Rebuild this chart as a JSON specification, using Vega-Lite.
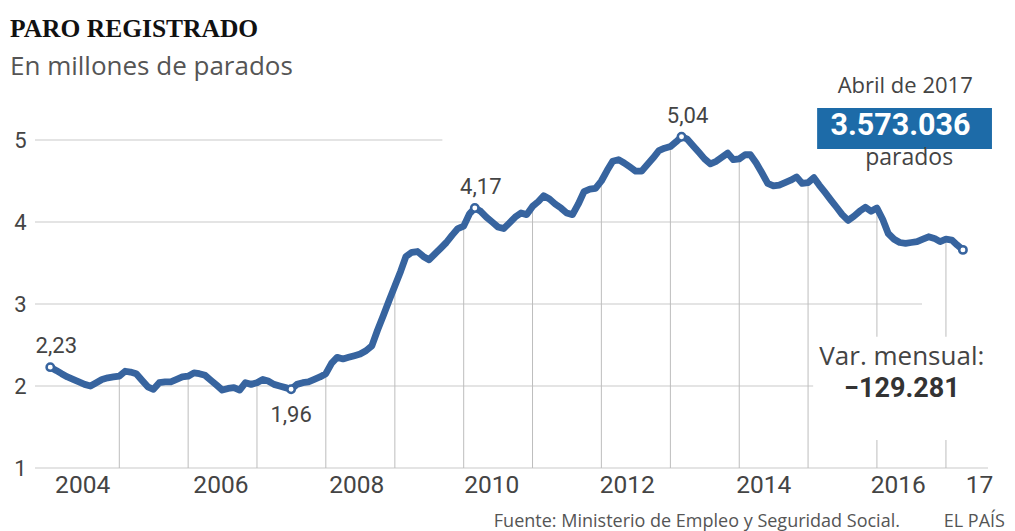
{
  "$schema": "https://vega.github.io/schema/vega-lite/v6.json",
  "width": 953,
  "height": 369,
  "autosize": "none",
  "padding": {"left": 35, "top": 99, "right": 27, "bottom": 63},
  "background": "white",
  "config": {"view": {"stroke": null}},
  "title": {
    "text": "PARO REGISTRADO",
    "subtitle": "En millones de parados",
    "anchor": "start",
    "frame": "group",
    "dx": -25,
    "offset": -5,
    "font": "Liberation Serif",
    "fontSize": 25.5,
    "fontWeight": "bold",
    "color": "#111111",
    "subtitleFont": "Open Sans",
    "subtitleFontSize": 26,
    "subtitleColor": "#555555",
    "subtitlePadding": 12
  },
  "data": {
    "format": {"parse": {"date": "utc:'%Y-%m-%d'"}},
    "values": [
      {"date": "2004-01-01", "value": 2.23, "label": "2,23"},
      {"date": "2004-02-01", "value": 2.19},
      {"date": "2004-03-01", "value": 2.15},
      {"date": "2004-04-01", "value": 2.11},
      {"date": "2004-05-01", "value": 2.08},
      {"date": "2004-06-01", "value": 2.05},
      {"date": "2004-07-01", "value": 2.02},
      {"date": "2004-08-01", "value": 2.00},
      {"date": "2004-09-01", "value": 2.04},
      {"date": "2004-10-01", "value": 2.08},
      {"date": "2004-11-01", "value": 2.10},
      {"date": "2004-12-01", "value": 2.11},
      {"date": "2005-01-01", "value": 2.12},
      {"date": "2005-02-01", "value": 2.18},
      {"date": "2005-03-01", "value": 2.17},
      {"date": "2005-04-01", "value": 2.15},
      {"date": "2005-05-01", "value": 2.07},
      {"date": "2005-06-01", "value": 1.99},
      {"date": "2005-07-01", "value": 1.96},
      {"date": "2005-08-01", "value": 2.04},
      {"date": "2005-09-01", "value": 2.05},
      {"date": "2005-10-01", "value": 2.05},
      {"date": "2005-11-01", "value": 2.08},
      {"date": "2005-12-01", "value": 2.11},
      {"date": "2006-01-01", "value": 2.12},
      {"date": "2006-02-01", "value": 2.16},
      {"date": "2006-03-01", "value": 2.15},
      {"date": "2006-04-01", "value": 2.13},
      {"date": "2006-05-01", "value": 2.07},
      {"date": "2006-06-01", "value": 2.01},
      {"date": "2006-07-01", "value": 1.95},
      {"date": "2006-08-01", "value": 1.97},
      {"date": "2006-09-01", "value": 1.98},
      {"date": "2006-10-01", "value": 1.95},
      {"date": "2006-11-01", "value": 2.04},
      {"date": "2006-12-01", "value": 2.02},
      {"date": "2007-01-01", "value": 2.04},
      {"date": "2007-02-01", "value": 2.08},
      {"date": "2007-03-01", "value": 2.06},
      {"date": "2007-04-01", "value": 2.02},
      {"date": "2007-05-01", "value": 2.00},
      {"date": "2007-06-01", "value": 1.98},
      {"date": "2007-07-01", "value": 1.96, "label": "1,96"},
      {"date": "2007-08-01", "value": 2.02},
      {"date": "2007-09-01", "value": 2.04},
      {"date": "2007-10-01", "value": 2.05},
      {"date": "2007-11-01", "value": 2.08},
      {"date": "2007-12-01", "value": 2.11},
      {"date": "2008-01-01", "value": 2.15},
      {"date": "2008-02-01", "value": 2.28},
      {"date": "2008-03-01", "value": 2.35},
      {"date": "2008-04-01", "value": 2.33},
      {"date": "2008-05-01", "value": 2.35},
      {"date": "2008-06-01", "value": 2.37},
      {"date": "2008-07-01", "value": 2.39},
      {"date": "2008-08-01", "value": 2.43},
      {"date": "2008-09-01", "value": 2.49},
      {"date": "2008-10-01", "value": 2.68},
      {"date": "2008-11-01", "value": 2.86},
      {"date": "2008-12-01", "value": 3.04},
      {"date": "2009-01-01", "value": 3.22},
      {"date": "2009-02-01", "value": 3.40},
      {"date": "2009-03-01", "value": 3.58},
      {"date": "2009-04-01", "value": 3.63},
      {"date": "2009-05-01", "value": 3.64},
      {"date": "2009-06-01", "value": 3.58},
      {"date": "2009-07-01", "value": 3.54},
      {"date": "2009-08-01", "value": 3.61},
      {"date": "2009-09-01", "value": 3.68},
      {"date": "2009-10-01", "value": 3.75},
      {"date": "2009-11-01", "value": 3.84},
      {"date": "2009-12-01", "value": 3.92},
      {"date": "2010-01-01", "value": 3.95},
      {"date": "2010-02-01", "value": 4.10},
      {"date": "2010-03-01", "value": 4.17, "label": "4,17"},
      {"date": "2010-04-01", "value": 4.13},
      {"date": "2010-05-01", "value": 4.06},
      {"date": "2010-06-01", "value": 4.00},
      {"date": "2010-07-01", "value": 3.94},
      {"date": "2010-08-01", "value": 3.92},
      {"date": "2010-09-01", "value": 3.99},
      {"date": "2010-10-01", "value": 4.06},
      {"date": "2010-11-01", "value": 4.11},
      {"date": "2010-12-01", "value": 4.09},
      {"date": "2011-01-01", "value": 4.19},
      {"date": "2011-02-01", "value": 4.25},
      {"date": "2011-03-01", "value": 4.32},
      {"date": "2011-04-01", "value": 4.28},
      {"date": "2011-05-01", "value": 4.22},
      {"date": "2011-06-01", "value": 4.17},
      {"date": "2011-07-01", "value": 4.11},
      {"date": "2011-08-01", "value": 4.09},
      {"date": "2011-09-01", "value": 4.22},
      {"date": "2011-10-01", "value": 4.37},
      {"date": "2011-11-01", "value": 4.40},
      {"date": "2011-12-01", "value": 4.41},
      {"date": "2012-01-01", "value": 4.50},
      {"date": "2012-02-01", "value": 4.63},
      {"date": "2012-03-01", "value": 4.74},
      {"date": "2012-04-01", "value": 4.76},
      {"date": "2012-05-01", "value": 4.72},
      {"date": "2012-06-01", "value": 4.67},
      {"date": "2012-07-01", "value": 4.62},
      {"date": "2012-08-01", "value": 4.62},
      {"date": "2012-09-01", "value": 4.70},
      {"date": "2012-10-01", "value": 4.78},
      {"date": "2012-11-01", "value": 4.87},
      {"date": "2012-12-01", "value": 4.90},
      {"date": "2013-01-01", "value": 4.92},
      {"date": "2013-02-01", "value": 4.98},
      {"date": "2013-03-01", "value": 5.04, "label": "5,04"},
      {"date": "2013-04-01", "value": 5.01},
      {"date": "2013-05-01", "value": 4.93},
      {"date": "2013-06-01", "value": 4.85},
      {"date": "2013-07-01", "value": 4.77},
      {"date": "2013-08-01", "value": 4.71},
      {"date": "2013-09-01", "value": 4.74},
      {"date": "2013-10-01", "value": 4.79},
      {"date": "2013-11-01", "value": 4.84},
      {"date": "2013-12-01", "value": 4.76},
      {"date": "2014-01-01", "value": 4.77},
      {"date": "2014-02-01", "value": 4.82},
      {"date": "2014-03-01", "value": 4.82},
      {"date": "2014-04-01", "value": 4.72},
      {"date": "2014-05-01", "value": 4.60},
      {"date": "2014-06-01", "value": 4.47},
      {"date": "2014-07-01", "value": 4.44},
      {"date": "2014-08-01", "value": 4.45},
      {"date": "2014-09-01", "value": 4.48},
      {"date": "2014-10-01", "value": 4.51},
      {"date": "2014-11-01", "value": 4.55},
      {"date": "2014-12-01", "value": 4.47},
      {"date": "2015-01-01", "value": 4.48},
      {"date": "2015-02-01", "value": 4.54},
      {"date": "2015-03-01", "value": 4.45},
      {"date": "2015-04-01", "value": 4.36},
      {"date": "2015-05-01", "value": 4.27},
      {"date": "2015-06-01", "value": 4.18},
      {"date": "2015-07-01", "value": 4.09},
      {"date": "2015-08-01", "value": 4.02},
      {"date": "2015-09-01", "value": 4.07},
      {"date": "2015-10-01", "value": 4.13},
      {"date": "2015-11-01", "value": 4.18},
      {"date": "2015-12-01", "value": 4.13},
      {"date": "2016-01-01", "value": 4.17},
      {"date": "2016-02-01", "value": 4.03},
      {"date": "2016-03-01", "value": 3.86},
      {"date": "2016-04-01", "value": 3.79},
      {"date": "2016-05-01", "value": 3.75},
      {"date": "2016-06-01", "value": 3.74},
      {"date": "2016-07-01", "value": 3.75},
      {"date": "2016-08-01", "value": 3.76},
      {"date": "2016-09-01", "value": 3.79},
      {"date": "2016-10-01", "value": 3.82},
      {"date": "2016-11-01", "value": 3.80},
      {"date": "2016-12-01", "value": 3.76},
      {"date": "2017-01-01", "value": 3.79},
      {"date": "2017-02-01", "value": 3.78},
      {"date": "2017-03-01", "value": 3.72},
      {"date": "2017-04-01", "value": 3.66}
    ]
  },
  "layer": [
    {
      "data": {"values": [{}]},
      "mark": {"type": "rule", "color": "#c9c9c9", "strokeWidth": 1},
      "encoding": {
        "x": {"datum": {"year": 2003, "month": 10, "date": 12, "utc": true}, "type": "temporal"},
        "x2": {"datum": {"year": 2017, "month": 8, "date": 12, "utc": true}},
        "y": {"datum": 1, "type": "quantitative"}
      }
    },
    {
      "data": {"values": [{}]},
      "mark": {"type": "rule", "color": "#c9c9c9", "strokeWidth": 1},
      "encoding": {
        "x": {"datum": {"year": 2003, "month": 10, "date": 12, "utc": true}, "type": "temporal"},
        "x2": {"datum": {"year": 2015, "month": 1, "date": 28, "utc": true}},
        "y": {"datum": 2, "type": "quantitative"}
      }
    },
    {
      "data": {"values": [{}]},
      "mark": {"type": "rule", "color": "#c9c9c9", "strokeWidth": 1},
      "encoding": {
        "x": {"datum": {"year": 2003, "month": 10, "date": 12, "utc": true}, "type": "temporal"},
        "x2": {"datum": {"year": 2016, "month": 8, "date": 27, "utc": true}},
        "y": {"datum": 3, "type": "quantitative"}
      }
    },
    {
      "data": {"values": [{}]},
      "mark": {"type": "rule", "color": "#c9c9c9", "strokeWidth": 1},
      "encoding": {
        "x": {"datum": {"year": 2003, "month": 10, "date": 12, "utc": true}, "type": "temporal"},
        "x2": {"datum": {"year": 2016, "month": 1, "date": 8, "utc": true}},
        "y": {"datum": 4, "type": "quantitative"}
      }
    },
    {
      "data": {"values": [{}]},
      "mark": {"type": "rule", "color": "#c9c9c9", "strokeWidth": 1},
      "encoding": {
        "x": {"datum": {"year": 2003, "month": 10, "date": 12, "utc": true}, "type": "temporal"},
        "x2": {"datum": {"year": 2009, "month": 9, "date": 10, "utc": true}},
        "y": {"datum": 5, "type": "quantitative"}
      }
    },
    {
      "transform": [{"filter": "utcmonth(datum.date) == 0 && utcyear(datum.date) >= 2005"}],
      "mark": {"type": "rule", "color": "#bdbdbd", "strokeWidth": 1},
      "encoding": {
        "x": {"field": "date", "type": "temporal"},
        "y": {"field": "value", "type": "quantitative"},
        "y2": {"datum": 1}
      }
    },
    {
      "data": {"values": [{}]},
      "mark": {"type": "rect", "fill": "white"},
      "encoding": {
        "x": {"datum": {"year": 2015, "month": 2, "date": 25, "utc": true}, "type": "temporal"},
        "x2": {"datum": {"year": 2017, "month": 8, "date": 20, "utc": true}},
        "y": {"datum": 2.6, "type": "quantitative"},
        "y2": {"datum": 1.34}
      }
    },
    {
      "mark": {"type": "line", "color": "#37649f", "strokeWidth": 6.8, "strokeJoin": "round", "strokeCap": "round"},
      "encoding": {
        "x": {
          "field": "date",
          "type": "temporal",
          "title": null,
          "scale": {
            "domain": [
              {"year": 2003, "month": 10, "date": 12, "utc": true},
              {"year": 2017, "month": 8, "date": 12, "utc": true}
            ],
            "nice": false
          },
          "axis": {
            "values": [
              {"year": 2004, "month": 6, "date": 18, "utc": true},
              {"year": 2006, "month": 6, "date": 21, "utc": true},
              {"year": 2008, "month": 6, "date": 10, "utc": true},
              {"year": 2010, "month": 5, "date": 27, "utc": true},
              {"year": 2012, "month": 5, "date": 15, "utc": true},
              {"year": 2014, "month": 5, "date": 8, "utc": true},
              {"year": 2016, "month": 4, "date": 20, "utc": true},
              {"year": 2017, "month": 6, "date": 25, "utc": true}
            ],
            "labelExpr": "utcyear(datum.value) == 2017 ? '17' : '' + utcyear(datum.value)",
            "grid": false,
            "domain": false,
            "ticks": false,
            "labelFont": "Roboto",
            "labelFontSize": 24.5,
            "labelColor": "#444444",
            "labelPadding": 5,
            "labelFlush": false,
            "labelOverlap": false
          }
        },
        "y": {
          "field": "value",
          "type": "quantitative",
          "title": null,
          "scale": {"domain": [1, 5.5], "nice": false, "zero": false},
          "axis": {
            "values": [1, 2, 3, 4, 5],
            "format": "d",
            "grid": false,
            "domain": false,
            "ticks": false,
            "labelFont": "Roboto",
            "labelFontSize": 22,
            "labelColor": "#444444",
            "labelPadding": 9,
            "labelBaseline": "middle"
          }
        }
      }
    },
    {
      "transform": [{"filter": "isValid(datum.label) || (utcyear(datum.date) == 2017 && utcmonth(datum.date) == 3)"}],
      "mark": {"type": "point", "filled": true, "fill": "white", "stroke": "#37649f", "strokeWidth": 2.5, "size": 55, "opacity": 1},
      "encoding": {
        "x": {"field": "date", "type": "temporal"},
        "y": {"field": "value", "type": "quantitative"}
      }
    },
    {
      "transform": [{"filter": "isValid(datum.label) && datum.value > 2"}],
      "mark": {"type": "text", "font": "Roboto", "fontSize": 22, "color": "#444444", "dx": 6, "dy": -14, "baseline": "alphabetic"},
      "encoding": {
        "x": {"field": "date", "type": "temporal"},
        "y": {"field": "value", "type": "quantitative"},
        "text": {"field": "label"}
      }
    },
    {
      "transform": [{"filter": "isValid(datum.label) && datum.value < 2"}],
      "mark": {"type": "text", "font": "Roboto", "fontSize": 22, "color": "#444444", "dx": 0, "dy": 33, "baseline": "alphabetic"},
      "encoding": {
        "x": {"field": "date", "type": "temporal"},
        "y": {"field": "value", "type": "quantitative"},
        "text": {"field": "label"}
      }
    },
    {
      "data": {"values": [{}]},
      "mark": {"type": "rect", "fill": "#1d6ba8"},
      "encoding": {
        "x": {"datum": {"year": 2015, "month": 2, "date": 18, "utc": true}, "type": "temporal"},
        "x2": {"datum": {"year": 2017, "month": 9, "date": 2, "utc": true}},
        "y": {"datum": 5.39, "type": "quantitative"},
        "y2": {"datum": 4.89}
      }
    },
    {
      "data": {"values": [{}]},
      "mark": {"type": "text", "text": "Abril de 2017", "font": "Open Sans", "fontSize": 22, "color": "#444444", "align": "center", "baseline": "alphabetic"},
      "encoding": {
        "x": {"datum": {"year": 2016, "month": 5, "date": 30, "utc": true}, "type": "temporal"},
        "y": {"datum": 5.573, "type": "quantitative"}
      }
    },
    {
      "data": {"values": [{}]},
      "mark": {"type": "text", "text": "3.573.036", "font": "Roboto", "fontSize": 30.5, "fontWeight": "bold", "color": "white", "align": "center", "baseline": "alphabetic"},
      "encoding": {
        "x": {"datum": {"year": 2016, "month": 5, "date": 5, "utc": true}, "type": "temporal"},
        "y": {"datum": 5.061, "type": "quantitative"}
      }
    },
    {
      "data": {"values": [{}]},
      "mark": {"type": "text", "text": "parados", "font": "Open Sans", "fontSize": 23, "color": "#444444", "align": "center", "baseline": "alphabetic"},
      "encoding": {
        "x": {"datum": {"year": 2016, "month": 6, "date": 20, "utc": true}, "type": "temporal"},
        "y": {"datum": 4.695, "type": "quantitative"}
      }
    },
    {
      "data": {"values": [{}]},
      "mark": {"type": "text", "text": "Var. mensual:", "font": "Open Sans", "fontSize": 26, "color": "#444444", "align": "center", "baseline": "alphabetic"},
      "encoding": {
        "x": {"datum": {"year": 2016, "month": 5, "date": 12, "utc": true}, "type": "temporal"},
        "y": {"datum": 2.256, "type": "quantitative"}
      }
    },
    {
      "data": {"values": [{}]},
      "mark": {"type": "text", "text": "−129.281", "font": "Roboto", "fontSize": 27, "fontWeight": "bold", "color": "#333333", "align": "center", "baseline": "alphabetic"},
      "encoding": {
        "x": {"datum": {"year": 2016, "month": 5, "date": 12, "utc": true}, "type": "temporal"},
        "y": {"datum": 1.866, "type": "quantitative"}
      }
    },
    {
      "data": {"values": [{}]},
      "mark": {"type": "text", "text": "Fuente: Ministerio de Empleo y Seguridad Social.", "font": "Open Sans", "fontSize": 18, "color": "#555555", "align": "right", "baseline": "alphabetic"},
      "encoding": {
        "x": {"datum": {"year": 2016, "month": 5, "date": 2, "utc": true}, "type": "temporal"},
        "y": {"datum": 0.28, "type": "quantitative"}
      }
    },
    {
      "data": {"values": [{}]},
      "mark": {"type": "text", "text": "EL PAÍS", "font": "Open Sans", "fontSize": 18, "color": "#555555", "align": "right", "baseline": "alphabetic"},
      "encoding": {
        "x": {"datum": {"year": 2017, "month": 11, "date": 10, "utc": true}, "type": "temporal"},
        "y": {"datum": 0.28, "type": "quantitative"}
      }
    }
  ]
}
